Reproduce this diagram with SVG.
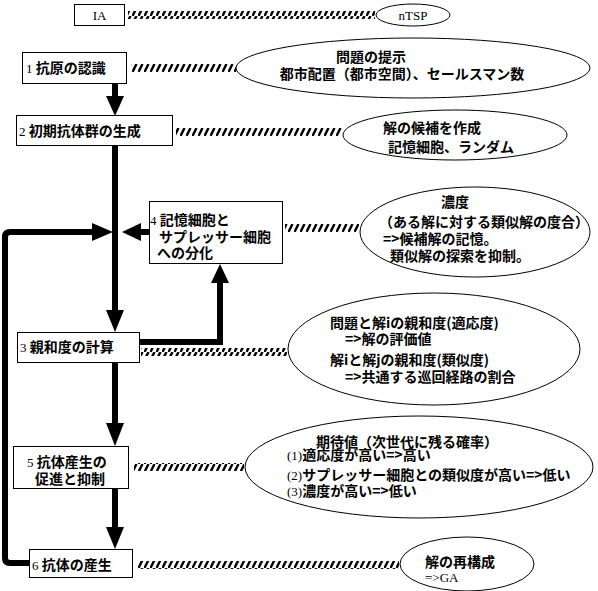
<svg xmlns="http://www.w3.org/2000/svg" width="598" height="591" viewBox="0 0 598 591">
<style>
.box{fill:#fff;stroke:#000;stroke-width:1}
.ell{fill:#fff;stroke:#000;stroke-width:1}
.t{font-family:"Noto Sans CJK JP","Noto Sans CJK SC",sans-serif;font-size:14px;font-weight:bold;fill:#000}
.n{font-family:"Liberation Serif",serif;font-size:13px;font-weight:normal;fill:#000}
.flow{fill:none;stroke:#000;stroke-width:6}
.hatch{fill:url(#hp)}
</style>
<defs>
<pattern id="hp" patternUnits="userSpaceOnUse" width="6" height="8">
<path d="M0.5 8 L4.5 0" stroke="#000" stroke-width="2.4"/>
</pattern>
</defs>
<g id="connectors">
<rect class="hatch" x="128" y="11" width="247" height="8"/>
<rect class="hatch" x="131" y="64" width="105" height="8"/>
<rect class="hatch" x="176" y="128" width="166" height="8"/>
<rect class="hatch" x="285" y="224" width="74" height="8"/>
<rect class="hatch" x="141" y="348" width="146" height="8"/>
<rect class="hatch" x="134" y="463" width="110" height="8"/>
<rect class="hatch" x="138" y="561" width="261" height="8"/>
<line class="flow" x1="115" y1="83" x2="115" y2="97"/>
<polygon points="106,96 124,96 115,116"/>
<line class="flow" x1="115" y1="146" x2="115" y2="311"/>
<polygon points="106,310 124,310 115,332"/>
<path class="flow" d="M29 563 H10 Q5 563 5 558 V237 Q5 232 10 232 H93"/>
<polygon points="92,223 92,241 113,232"/>
<line class="flow" x1="149" y1="232" x2="139" y2="232"/>
<polygon points="141,223 141,241 122,232"/>
<path class="flow" d="M139 342 H220 V282"/>
<polygon points="211,283 229,283 220,264"/>
<line class="flow" x1="115" y1="362" x2="115" y2="424"/>
<polygon points="106,423 124,423 115,446"/>
<line class="flow" x1="115" y1="489" x2="115" y2="528"/>
<polygon points="106,527 124,527 115,549"/>
</g>
<g id="ia">
<rect class="box" x="74.5" y="4.5" width="50" height="21"/>
<text class="n" x="99.5" y="20" text-anchor="middle">IA</text>
</g>
<g id="ntsp">
<ellipse class="ell" cx="413" cy="15" rx="37" ry="11"/>
<text class="n" x="413" y="20" text-anchor="middle">nTSP</text>
</g>
<g id="node1">
<rect class="box" x="22.5" y="52.5" width="104" height="31"/>
<text x="26" y="73"><tspan class="n">1 </tspan><tspan class="t">抗原の認識</tspan></text>
</g>
<g id="note1">
<ellipse class="ell" cx="413" cy="68" rx="177" ry="30"/>
<text class="t" x="371" y="62" text-anchor="middle">問題の提示</text>
<text class="t" x="402" y="79" text-anchor="middle">都市配置（都市空間）、セールスマン数</text>
</g>
<g id="node2">
<rect class="box" x="16.5" y="115.5" width="156" height="30"/>
<text x="19" y="136"><tspan class="n">2 </tspan><tspan class="t">初期抗体群の生成</tspan></text>
</g>
<g id="note2">
<ellipse class="ell" cx="455" cy="135" rx="112" ry="25"/>
<text class="t" x="432" y="133" text-anchor="middle">解の候補を作成</text>
<text class="t" x="451" y="152" text-anchor="middle">記憶細胞、ランダム</text>
</g>
<g id="node4">
<rect class="box" x="149.5" y="201.5" width="133" height="62"/>
<text x="150" y="225"><tspan class="n">4 </tspan><tspan class="t">記憶細胞と</tspan></text>
<text class="t" x="159" y="242">サプレッサー細胞</text>
<text class="t" x="157" y="258">への分化</text>
</g>
<g id="note4">
<ellipse class="ell" cx="475" cy="232" rx="115" ry="45"/>
<text class="t" x="455" y="207" text-anchor="middle">濃度</text>
<text class="t" x="484" y="227" text-anchor="middle">（ある解に対する類似解の度合）</text>
<text class="t" x="383" y="244">=&gt;候補解の記憶。</text>
<text class="t" x="390" y="261">類似解の探索を抑制。</text>
</g>
<g id="node3">
<rect class="box" x="17.5" y="332.5" width="122" height="30"/>
<text x="20" y="352"><tspan class="n">3 </tspan><tspan class="t">親和度の計算</tspan></text>
</g>
<g id="note3">
<ellipse class="ell" cx="434" cy="349" rx="146" ry="56"/>
<text class="t" x="330" y="328">問題と解iの親和度(適応度)</text>
<text class="t" x="345" y="344">=&gt;解の評価値</text>
<text class="t" x="330" y="365">解iと解jの親和度(類似度)</text>
<text class="t" x="345" y="382">=&gt;共通する巡回経路の割合</text>
</g>
<g id="node5">
<rect class="box" x="13.5" y="446.5" width="115" height="42"/>
<text x="27" y="467"><tspan class="n">5 </tspan><tspan class="t">抗体産生の</tspan></text>
<text class="t" x="35" y="484">促進と抑制</text>
</g>
<g id="note5">
<ellipse class="ell" cx="419" cy="467" rx="174" ry="51"/>
<text class="t" x="407" y="447" text-anchor="middle">期待値（次世代に残る確率）</text>
<text x="287" y="460"><tspan class="n">(1)</tspan><tspan class="t">適応度が高い=&gt;高い</tspan></text>
<text x="287" y="480"><tspan class="n">(2)</tspan><tspan class="t">サプレッサー細胞との類似度が高い=&gt;低い</tspan></text>
<text x="287" y="496"><tspan class="n">(3)</tspan><tspan class="t">濃度が高い=&gt;低い</tspan></text>
</g>
<g id="node6">
<rect class="box" x="29.5" y="549.5" width="103" height="28"/>
<text x="32" y="570"><tspan class="n">6 </tspan><tspan class="t">抗体の産生</tspan></text>
</g>
<g id="note6">
<ellipse class="ell" cx="467" cy="564" rx="67" ry="27"/>
<text class="t" x="425" y="567">解の再構成</text>
<text class="n" x="425" y="582">=&gt;GA</text>
</g>
</svg>
